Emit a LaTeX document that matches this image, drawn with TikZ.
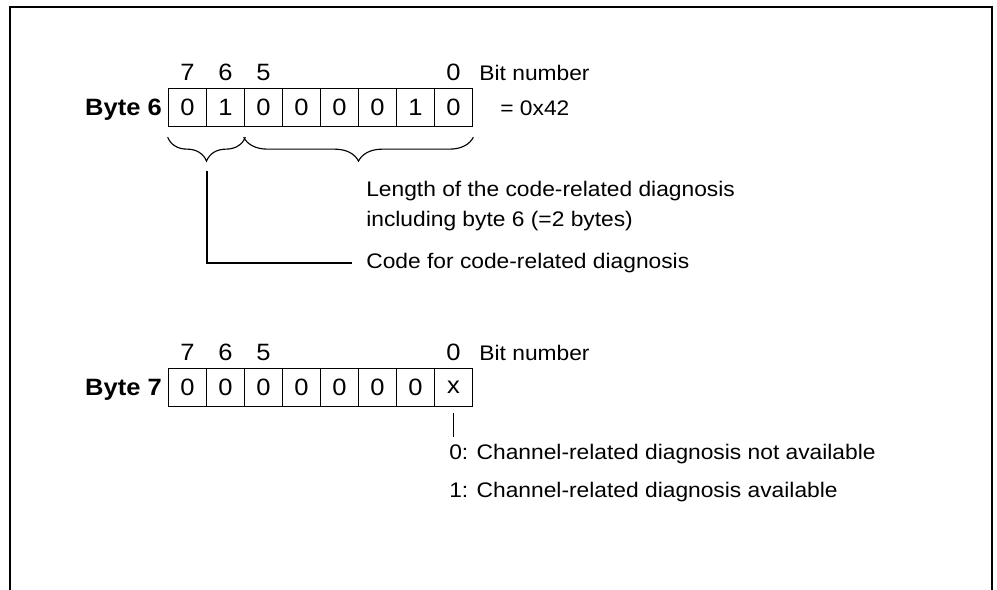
\documentclass[tikz,border=0pt]{standalone}
\usepackage{fontspec}
\setmainfont{Liberation Sans}[FakeStretch=1.08]
\usetikzlibrary{positioning, calc, decorations.pathreplacing}

\begin{document}
\begin{tikzpicture}[
    x=0.025cm, y=-0.025cm,
    font=\fontsize{15}{21.3}\selectfont,
    lbl/.style={inner sep=0pt},
    bitcell/.style={rectangle, draw, line width=1.2pt, minimum width=0.95cm,
                    minimum height=0.95cm, inner sep=0pt,
                    font=\fontsize{16.8}{17}\selectfont},
    bitno/.style={lbl, font=\fontsize{16.8}{17}\selectfont},
    bytename/.style={lbl, font=\fontsize{16.8}{17}\selectfont\bfseries},
    conn/.style={line width=1.4pt},
    bracket/.style={decorate, decoration={brace, amplitude=17pt}, line width=0.8pt},
]
\useasboundingbox (0,0) rectangle (997,590);
% outer frame, open at the bottom
\draw[line width=1.4pt] (10,600) |- (992,7) -- (992,600);

% byte 6
\foreach \v [count=\i] in {0,1,0,0,0,0,1,0}
    \node[bitcell] (a\i) at ({149.5+38*\i}, 107.5) {\v};
\foreach \i/\n in {1/7,2/6,3/5,8/0}
    \node[bitno, above=5pt of a\i] (na\i) {\n};
\node[lbl, base right=13pt of na8] {Bit number};
\node[bytename, base left=4pt of a1] {Byte 6};
\node[lbl, base right=19pt of a8] {= 0x42};

\draw[bracket] ([yshift=-7pt]a2.south east) -- ([yshift=-7pt]a1.south west);
\draw[bracket] ([yshift=-7pt]a8.south east) -- ([yshift=-7pt]a3.south west);

\node[lbl, anchor=north west, align=left] (lenlbl) at (366,181)
    {Length of the code-related diagnosis\\including byte 6 (=2 bytes)};
\coordinate (codetip) at ([yshift=-31pt]a1.south east);
\node[lbl, inner xsep=10pt, anchor=west] (codelbl) at (352,263)
    {Code for code-related diagnosis};
\draw[conn] (codetip) |- (codelbl.west);

% byte 7
\foreach \v [count=\i] in {0,0,0,0,0,0,0,x}
    \node[bitcell] (b\i) at ({149.5+38*\i}, 387.5) {\v};
\foreach \i/\n in {1/7,2/6,3/5,8/0}
    \node[bitno, above=5pt of b\i] (nb\i) {\n};
\node[lbl, base right=13pt of nb8] {Bit number};
\node[bytename, base left=4pt of b1] {Byte 7};

\node[lbl, inner ysep=5pt, anchor=north west] (notavail) at (449,437)
    {0: Channel-related diagnosis not available};
\node[lbl, anchor=base west] (avail) at (449,497.5)
    {1: Channel-related diagnosis available};
\draw[conn] ([yshift=-4pt]b8.south) -- (b8.south |- notavail.north);
\end{tikzpicture}
\end{document}
